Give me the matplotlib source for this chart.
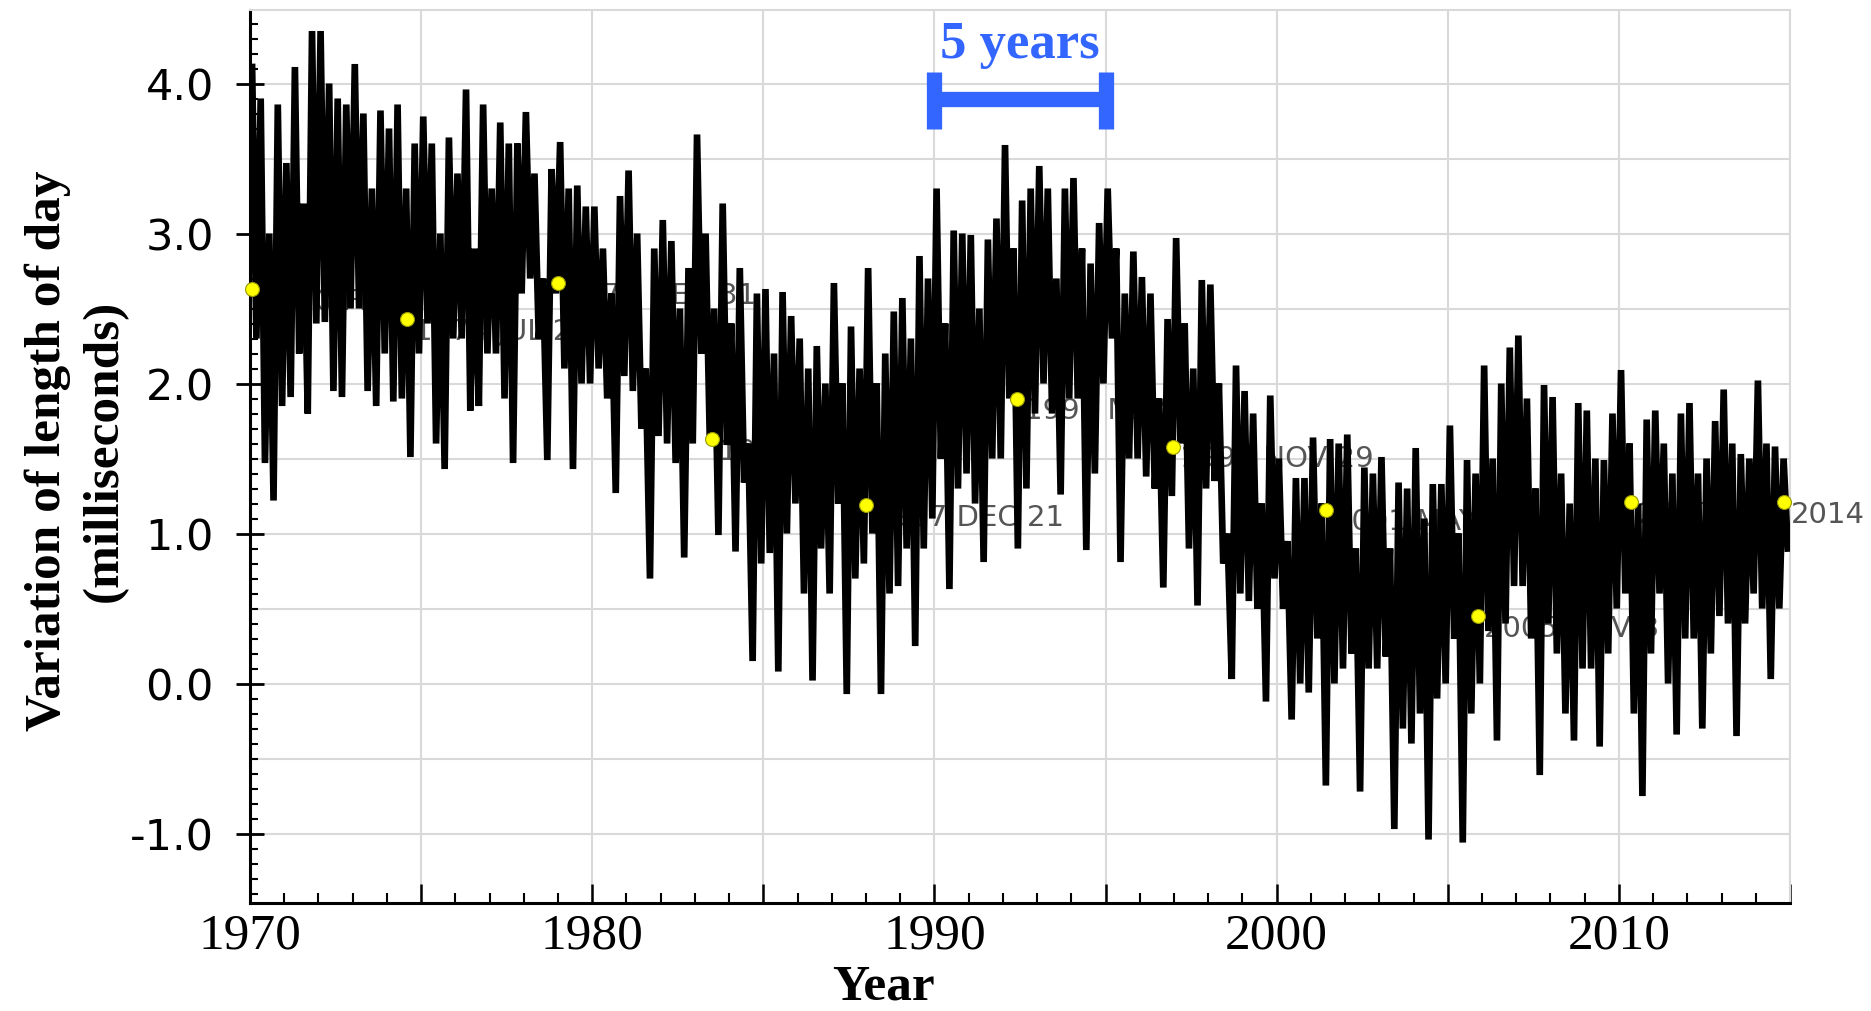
import numpy as np
import matplotlib
matplotlib.use("Agg")
import matplotlib.pyplot as plt
from matplotlib.ticker import MultipleLocator

# ---------------- data ----------------
# quarterly envelope of the length-of-day series, starting 1970.00, step 0.25 yr
first_quarter = 1970.0
lod_high = [
    4.11, 3.90, 3.00, 3.86, 3.47, 4.11, 3.20, 4.35,   # 1970-1971
    4.35, 4.00, 3.90, 3.86, 4.13, 3.80, 3.30, 3.82,   # 1972-1973
    3.70, 3.86, 3.30, 3.60, 3.78, 3.60, 3.00, 3.64,   # 1974-1975
    3.40, 3.96, 2.90, 3.86, 3.30, 3.74, 3.60, 3.60,   # 1976-1977
    3.81, 3.40, 2.70, 3.43, 3.61, 3.30, 3.32, 3.18,   # 1978-1979
    3.18, 2.90, 2.60, 3.25, 3.42, 3.00, 2.10, 2.90,   # 1980-1981
    3.09, 2.95, 2.50, 2.77, 3.66, 3.00, 2.50, 3.20,   # 1982-1983
    2.40, 2.77, 1.60, 2.60, 2.63, 2.20, 2.61, 2.45,   # 1984-1985
    2.30, 2.10, 2.25, 2.00, 2.67, 2.00, 2.38, 2.10,   # 1986-1987
    2.77, 2.00, 2.20, 2.48, 2.57, 2.30, 2.85, 2.70,   # 1988-1989
    3.30, 2.40, 3.02, 3.00, 2.99, 2.50, 2.96, 3.10,   # 1990-1991
    3.59, 2.90, 3.22, 3.30, 3.45, 3.30, 2.70, 3.30,   # 1992-1993
    3.37, 2.90, 2.80, 3.07, 3.30, 2.90, 2.60, 2.88,   # 1994-1995
    2.71, 2.60, 1.90, 2.43, 2.97, 2.40, 2.10, 2.69,   # 1996-1997
    2.66, 2.00, 1.00, 2.12, 1.95, 1.80, 1.20, 1.92,   # 1998-1999
    1.50, 0.95, 1.37, 1.37, 1.64, 1.20, 1.63, 1.60,   # 2000-2001
    1.66, 0.90, 1.44, 1.40, 1.51, 0.90, 1.34, 1.30,   # 2002-2003
    1.57, 1.10, 1.33, 1.33, 1.72, 1.00, 1.49, 1.40,   # 2004-2005
    2.12, 1.50, 2.00, 2.24, 2.32, 1.90, 1.30, 1.99,   # 2006-2007
    1.91, 1.40, 1.20, 1.87, 1.82, 1.50, 1.49, 1.80,   # 2008-2009
    2.09, 1.60, 1.20, 1.76, 1.82, 1.60, 1.40, 1.80,   # 2010-2011
    1.87, 1.40, 1.50, 1.75, 1.96, 1.60, 1.53, 1.50,   # 2012-2013
    2.02, 1.60, 1.58, 1.50,                           # 2014
]
lod_low = [
    2.30, 1.47, 1.22, 1.85, 1.91, 2.20, 1.80, 2.40,   # 1970-1971
    2.41, 1.95, 1.91, 2.50, 2.50, 1.95, 1.85, 2.20,   # 1972-1973
    1.88, 1.90, 1.51, 2.20, 2.40, 1.60, 1.43, 2.30,   # 1974-1975
    2.30, 1.82, 1.85, 2.20, 2.20, 1.90, 1.47, 2.60,   # 1976-1977
    2.70, 2.30, 1.49, 2.60, 2.10, 1.43, 2.00, 2.00,   # 1978-1979
    2.10, 1.90, 1.27, 2.05, 1.95, 1.70, 0.70, 1.65,   # 1980-1981
    1.60, 1.47, 0.84, 1.60, 2.20, 1.60, 0.99, 1.59,   # 1982-1983
    0.88, 1.34, 0.15, 0.80, 0.87, 0.08, 1.00, 1.20,   # 1984-1985
    0.60, 0.02, 0.90, 0.60, 1.20, -0.07, 0.70, 0.80,  # 1986-1987
    1.00, -0.07, 0.60, 0.65, 0.90, 0.25, 0.90, 1.10,  # 1988-1989
    1.50, 0.63, 1.30, 1.40, 1.20, 0.81, 1.50, 1.50,   # 1990-1991
    1.90, 0.90, 1.30, 1.80, 2.00, 1.80, 1.26, 1.90,   # 1992-1993
    1.90, 0.89, 1.40, 2.00, 2.30, 0.81, 1.50, 1.50,   # 1994-1995
    1.38, 1.30, 0.64, 1.25, 1.60, 0.90, 0.52, 1.30,   # 1996-1997
    1.35, 0.80, 0.03, 0.60, 0.55, 0.50, -0.12, 0.70,  # 1998-1999
    0.50, -0.24, 0.00, -0.06, 0.30, -0.68, 0.00, 0.10,  # 2000-2001
    0.20, -0.72, 0.10, 0.10, 0.18, -0.97, -0.30, -0.40, # 2002-2003
    -0.20, -1.04, -0.10, 0.00, 0.30, -1.06, -0.20, 0.00, # 2004-2005
    0.35, -0.38, 0.40, 0.65, 0.65, 0.30, -0.61, 0.40,  # 2006-2007
    0.20, -0.20, -0.38, 0.10, 0.10, -0.42, 0.20, 0.50, # 2008-2009
    0.60, -0.20, -0.75, 0.20, 0.60, 0.00, -0.34, 0.30, # 2010-2011
    0.30, -0.30, 0.20, 0.45, 0.40, -0.35, 0.40, 0.60,  # 2012-2013
    0.50, 0.03, 0.50, 0.90,                            # 2014
]

marker_years = [1970.07, 1974.58, 1978.99, 1983.50, 1988.00, 1992.41,
                1996.96, 2001.43, 2005.87, 2010.35, 2014.83]
marker_values = [2.63, 2.43, 2.67, 1.63, 1.19, 1.90, 1.58, 1.16, 0.45, 1.21, 1.21]
marker_labels = ["1970 FEB 3", "1974 JUL 27", "1978 DEC 31", "1983 JUN 30",
                 "1987 DEC 21", "1992 MAY 31", "1996 NOV 29", "2001 MAY 20",
                 "2005 NOV 8", "2010 MAY", "2014"]

x_labelled_ticks = [1970, 1980, 1990, 2000, 2010]
y_ticks = [-1.0, 0.0, 1.0, 2.0, 3.0, 4.0]

scale_bar_years = [1990, 1995]
scale_bar_text = "5 years"

# ---------------- figure ----------------
W, H = 1871, 1011
fig = plt.figure(figsize=(W / 100, H / 100), dpi=100)
ax = fig.add_axes([250 / W, 108 / H, 1540 / W, 893 / H])

BLUE = "#3366ff"
GRID = "#d9d9d9"
SERIF = "Liberation Serif"

# grid lines (every 5 years / every 0.5 ms)
for gx in range(1975, 2016, 5):
    ax.axvline(gx, color=GRID, lw=1.5, zorder=0)
for gy in np.arange(-1.0, 4.51, 0.5):
    ax.axhline(gy, color=GRID, lw=1.5, zorder=0)

# series: alternating quarterly high / low values
n = len(lod_high)
q = first_quarter + 0.25 * np.arange(n)
xs = np.empty(2 * n)
ys = np.empty(2 * n)
xs[0::2] = q + 0.0625
xs[1::2] = q + 0.1875
ys[0::2] = lod_high
ys[1::2] = lod_low

# labels of the marked points (behind the curve)
for mx, my, ml in zip(marker_years, marker_values, marker_labels):
    ax.annotate(ml, (mx, my), xytext=(5, -9), textcoords="offset points",
                fontsize=21, color="#555555", ha="left", va="center",
                family="DejaVu Sans", zorder=2)

ax.plot(xs, ys, color="black", lw=4.8, zorder=3, solid_joinstyle="bevel")

ax.plot(marker_years, marker_values, "o", ms=10, mfc="#ffff00", mec="#9a9a00",
        mew=0.8, zorder=5, clip_on=False)

# 5-year scale bar
ax.plot(scale_bar_years, [3.90, 3.90], color=BLUE, lw=11, solid_capstyle="butt", zorder=6)
for sx in scale_bar_years:
    ax.plot([sx, sx], [3.70, 4.08], color=BLUE, lw=11, solid_capstyle="butt", zorder=6)
ax.text(sum(scale_bar_years) / 2, 4.17, scale_bar_text, color=BLUE, fontsize=38,
        fontweight="bold", family=SERIF, ha="center", va="baseline", zorder=6)

# limits
ax.set_xlim(1970, 2015)
ax.set_ylim(-1.463, 4.49)

# ticks
five_year = list(range(1970, 2016, 5))
ax.set_xticks(five_year, [str(t) if t in x_labelled_ticks else "" for t in five_year],
              fontsize=37, family=SERIF)
ax.xaxis.set_minor_locator(MultipleLocator(1))
ax.set_yticks(y_ticks, [f"{v:.1f}" for v in y_ticks], fontsize=31, family="DejaVu Sans")
ax.yaxis.set_minor_locator(MultipleLocator(0.1))

ax.tick_params(axis="x", which="major", direction="in", length=14, width=1.8, pad=7)
ax.tick_params(axis="x", which="minor", direction="in", length=7, width=1.5)
ax.tick_params(axis="y", which="major", direction="inout", length=20, width=2.0, pad=16)
ax.tick_params(axis="y", which="minor", direction="in", length=6, width=1.5)
ax.tick_params(top=False, right=False, which="both")

# spines
for s in ("left", "bottom"):
    ax.spines[s].set_linewidth(2.2)
    ax.spines[s].set_color("black")
for s in ("top", "right"):
    ax.spines[s].set_linewidth(1.5)
    ax.spines[s].set_color(GRID)

# axis labels
ax.set_ylabel("Variation of length of day\n(milliseconds)", fontsize=37,
              fontweight="bold", family=SERIF, linespacing=1.3, multialignment="center")
ax.yaxis.label.set_va("center")
ax.yaxis.set_label_coords(-0.113, 0.506)

ax.set_xlabel("Year", fontsize=37, fontweight="bold", family=SERIF)
ax.xaxis.label.set_va("baseline")
ax.xaxis.set_label_coords(0.411, -0.108)

fig.savefig("out.png", dpi=100, facecolor="white")
